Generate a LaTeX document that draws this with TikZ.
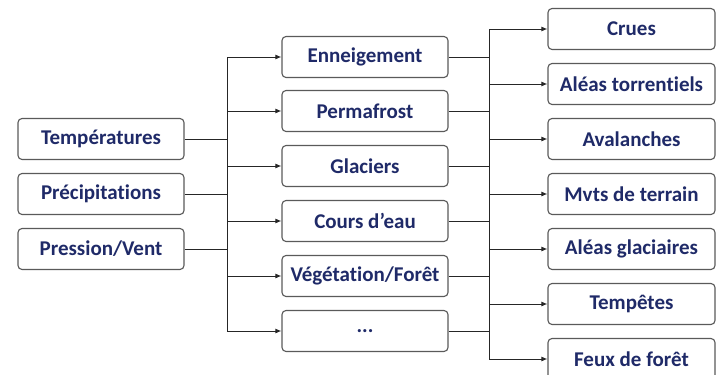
\documentclass[tikz,border=0pt]{standalone}
\usepackage{fontspec}
\setmainfont{Carlito}[RawFeature={-liga}]
\usetikzlibrary{arrows.meta}
\definecolor{navy}{HTML}{1F2A68}
\definecolor{bordergrey}{HTML}{5A5A5A}
\begin{document}
\begin{tikzpicture}[x=1pt,y=-1pt,
  boxstyle/.style={draw=bordergrey, line width=1.1pt, rounded corners=4pt, fill=white,
    minimum height=41pt, inner sep=0pt, text=navy, font=\fontsize{21}{24}\selectfont\bfseries},
  leftbox/.style={boxstyle, minimum width=166pt},
  midbox/.style={boxstyle, minimum width=166pt},
  rightbox/.style={boxstyle, minimum width=167pt},
  conn/.style={draw=black!85, line width=1pt},
  arr/.style={conn, -{Latex[length=6pt,width=5pt]}}]
\useasboundingbox (0,0) rectangle (721,375);
% left column
\node[leftbox] (t) at (101,139) {Températures};
\node[leftbox] (p) at (101,194) {Précipitations};
\node[leftbox] (v) at (101,249) {Pression/Vent};
% middle column
\node[midbox] (m1) at (365,57) {Enneigement};
\node[midbox] (m2) at (365,111) {Permafrost};
\node[midbox] (m3) at (365,166) {Glaciers};
\node[midbox] (m4) at (365,221) {Cours d’eau};
\node[midbox] (m5) at (365,276) {Végétation/Forêt};
\node[midbox] (m6) at (365,331) {...};
% right column
\node[rightbox] (r1) at (631.5,29) {Crues};
\node[rightbox] (r2) at (631.5,84) {Aléas torrentiels};
\node[rightbox] (r3) at (631.5,139) {Avalanches};
\node[rightbox] (r4) at (631.5,194) {Mvts de terrain};
\node[rightbox] (r5) at (631.5,249) {Aléas glaciaires};
\node[rightbox] (r6) at (631.5,304) {Tempêtes};
\node[rightbox] (r7) at (631.5,359) {Feux de forêt};
% bus coordinates
\coordinate (b1top) at (227,57);
\coordinate (b1bot) at (227,331);
\coordinate (b2top) at (489,29);
\coordinate (b2bot) at (489,359);
\draw[conn] (b1top) -- (b1bot);
\draw[conn] (b2top) -- (b2bot);
% left to bus
\foreach \n in {t,p,v} {\draw[conn] (\n.east) -- (\n.east -| b1top);}
% bus to middle
\foreach \n in {m1,m2,m3,m4,m5,m6} {\draw[arr] (\n.west -| b1top) -- (\n.west);}
% middle to bus
\foreach \n in {m1,m2,m3,m4,m5,m6} {\draw[conn] (\n.east) -- (\n.east -| b2top);}
% bus to right
\foreach \n in {r1,r2,r3,r4,r5,r6,r7} {\draw[arr] (\n.west -| b2top) -- (\n.west);}
\end{tikzpicture}
\end{document}
